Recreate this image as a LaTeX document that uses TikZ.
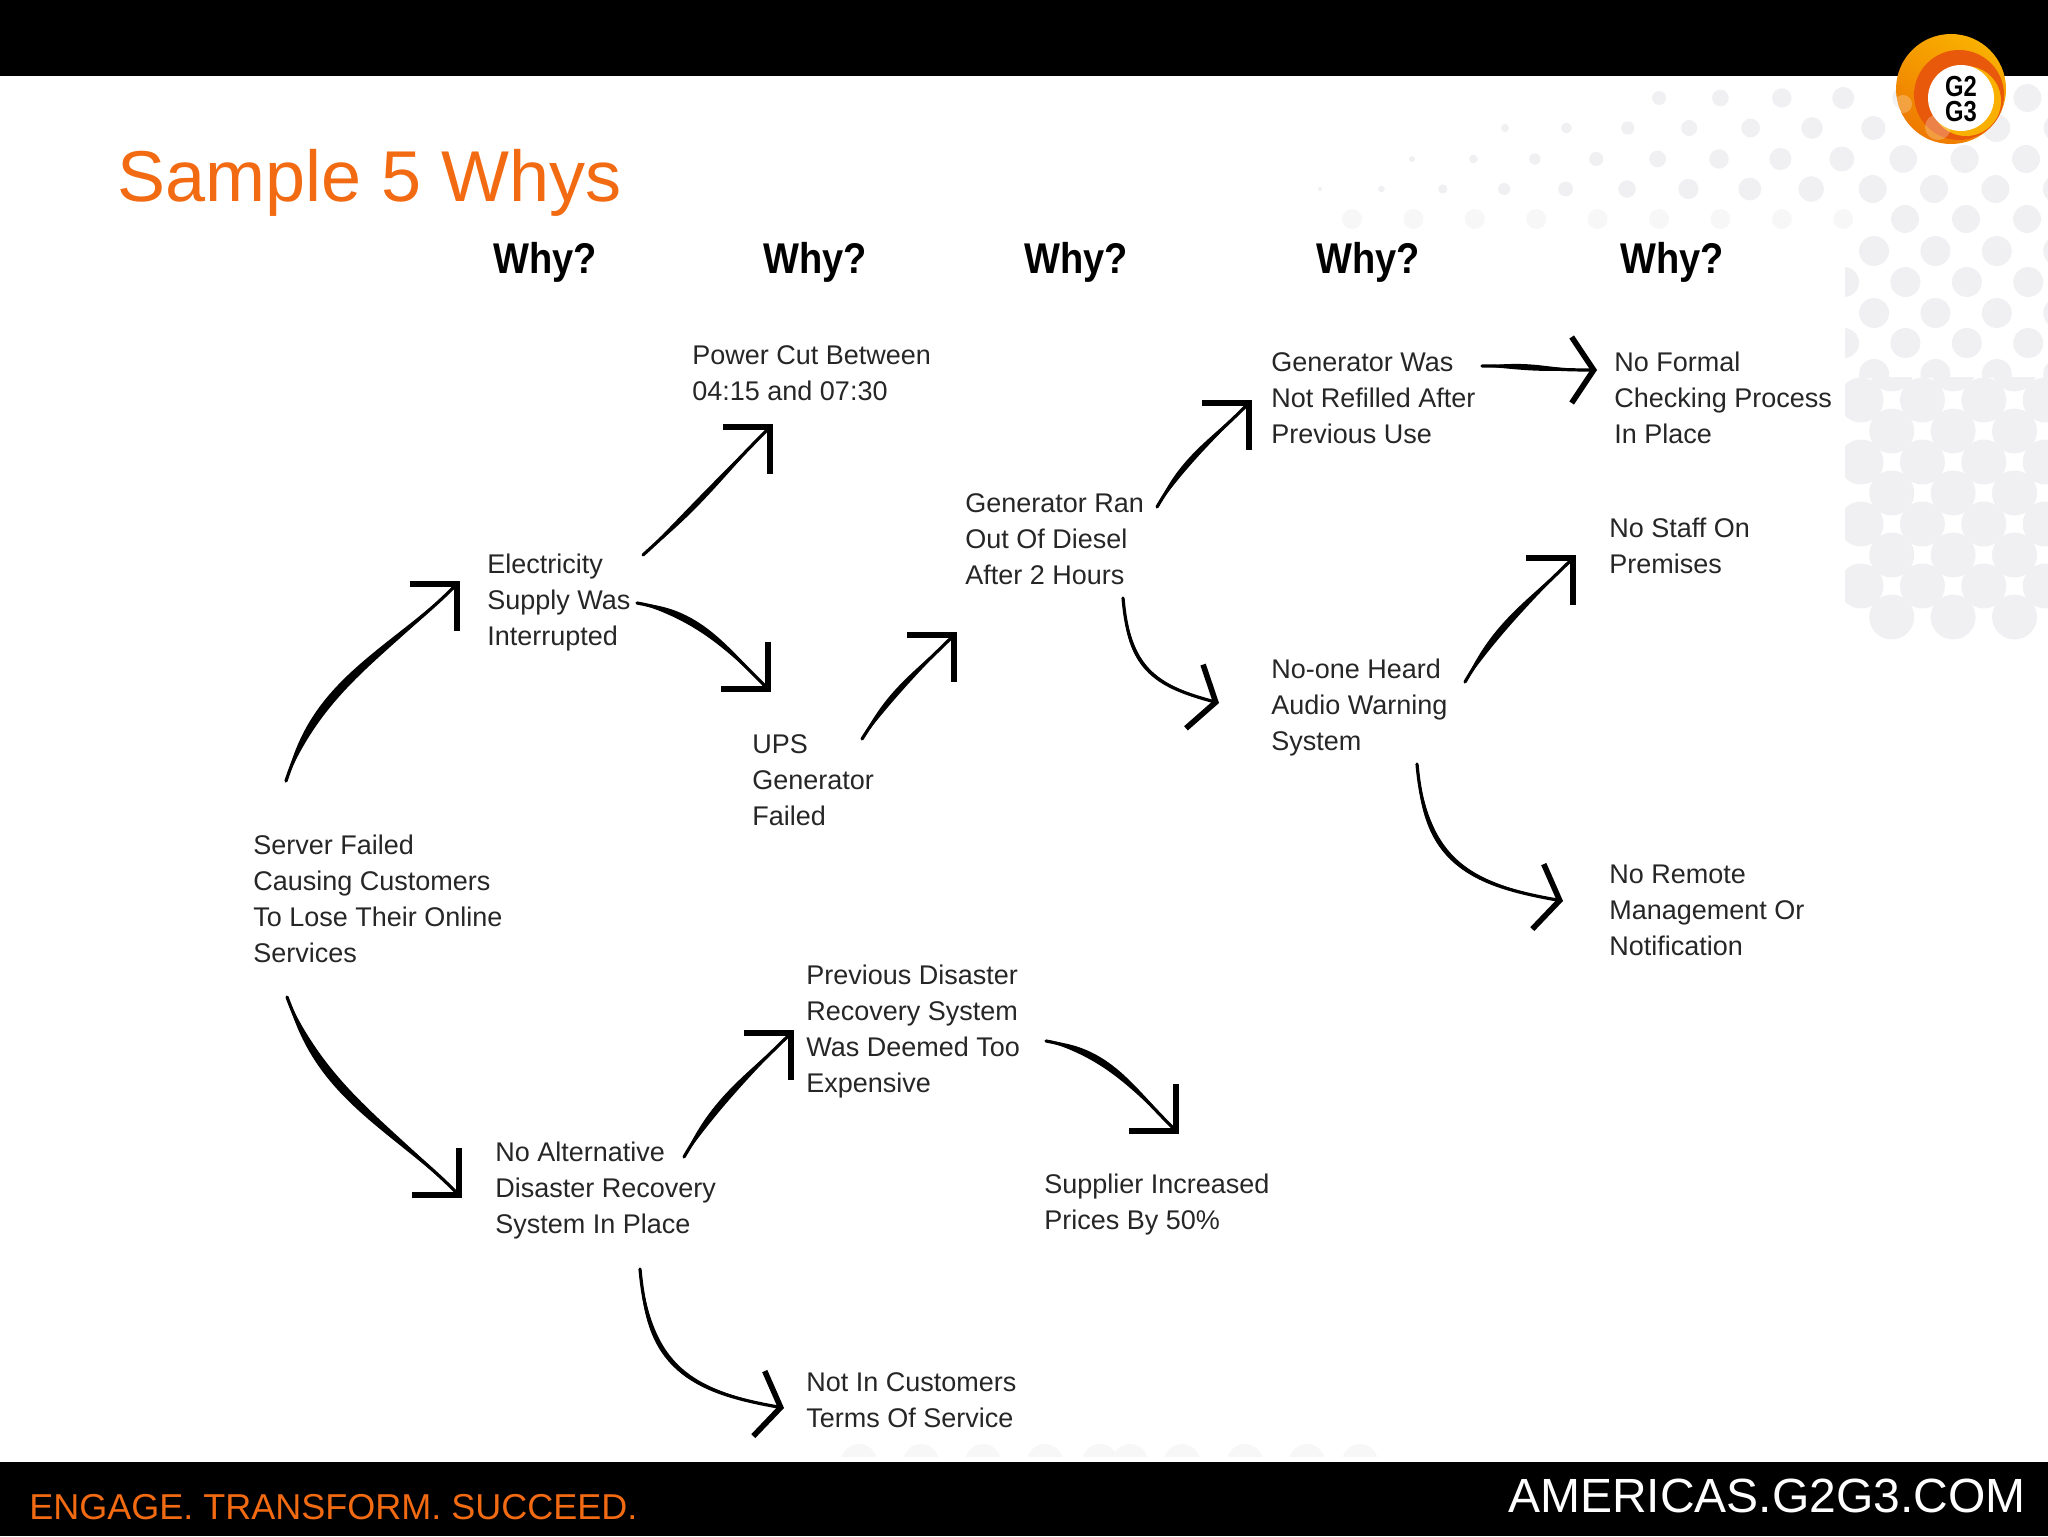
\documentclass[tikz,border=0pt]{standalone}
\usepackage{fontspec}
\setmainfont{Liberation Sans}
\newfontfamily\whyfont{Liberation Sans}[FakeStretch=0.885]
\newfontfamily\logofont{Liberation Sans}[FakeStretch=0.82]
\usetikzlibrary{arrows.meta,calc}
\definecolor{gOrange}{HTML}{F26A12}
\definecolor{gDots}{HTML}{F0F0F2}
\definecolor{gFaint}{HTML}{F7F7F8}
\definecolor{gText}{HTML}{262626}
\definecolor{gAmber}{HTML}{F9B000}
\definecolor{gRing}{HTML}{EE7A00}
\definecolor{gCore}{HTML}{E8590C}
\tikzset{
  whytext/.style={anchor=north west, inner sep=0pt, align=left, text=gText,
    font=\fontsize{13.5}{18}\selectfont},
  whyhead/.style={anchor=center, inner sep=0pt, font=\fontsize{21.5}{24}\whyfont\bfseries},
  corehead/.style={line cap=round, line width=1.6pt},
  cornerflow/.style={corehead, -{Straight Barb[length=16.5pt,width=33pt,line width=3.2pt]}},
  openflow/.style={corehead, looseness=1.25, -{Straight Barb[length=11pt,width=33pt,line width=2.8pt]}},
}
% spread, style, from, out, in, to
\newcommand{\whyflow}[6][6]{%
  \draw[#2] (#3) to[out=#4,in=#5] (#6);
  \pgfmathsetmacro{\outa}{#4+#1}\pgfmathsetmacro{\outb}{#4-#1}
  \pgfmathsetmacro{\ina}{#5-1.5}\pgfmathsetmacro{\inb}{#5+1.5}
  \fill[#2,-] (#3) to[out=\outa,in=\ina] (#6) to[out=\inb,in=\outb] (#3);
}
\begin{document}
\begin{tikzpicture}[x=0.5pt,y=-0.5pt]
  \useasboundingbox (0,0) rectangle (2048,1536);
  % dots behind the slide
  \foreach \ypos/\xfirst/\rfirst in {98/1659/7,128/1505/4,159/1412/3,189/1320/2}{
    \foreach \k in {0,...,12}{
      \pgfmathsetmacro{\xpos}{\xfirst+61.4*\k}
      \pgfmathsetmacro{\rad}{min(\rfirst+(\xpos-\xfirst)*0.022,14)}
      \ifdim \xpos pt<2060pt
        \fill[gDots] (\xpos,\ypos) circle[radius=\rad];
      \fi
    }
  }
  \foreach \k in {0,...,8}
    \fill[gFaint] (1352+61.4*\k,219) circle[radius=10];
  \foreach \xpos in {1905,1966,2027}
    \fill[gDots] (\xpos,219) circle[radius=14];
  \begin{scope}
    \clip (1845,230) rectangle (2048,377);
    \foreach \ypos/\xfirst in {251/1874,282/1844,313/1874,343/1844,374/1874}{
      \foreach \k in {0,...,3}{
        \fill[gDots] (\xfirst+61.4*\k,\ypos) circle[radius=15];
      }
    }
  \end{scope}
  \begin{scope}
    \clip (1845,377) rectangle (2048,648);
    \foreach \m in {0,...,8}{
      \pgfmathsetmacro{\xfirst}{1861+mod(\m+1,2)*30.7}
      \foreach \k in {0,...,3}{
        \fill[gDots] (\xfirst+61.4*\k,369+31*\m) circle[radius=22.5];
      }
    }
  \end{scope}
  \begin{scope}
    \clip (800,1440) rectangle (1400,1456);
    \foreach \xpos in {859,921,983,1045,1100,1130,1182,1245,1307,1360}
      \fill[gFaint] (\xpos,1462) circle[radius=18];
  \end{scope}
  % bands
  \fill[black] (0,0) rectangle (2048,76);
  \fill[black] (0,1462) rectangle (2048,1536);
  % logo
  \shade[left color=gAmber,right color=gRing,shading angle=-30] (1951,89) circle[radius=55];
  \fill[gCore] (1959,95) circle[radius=45];
  \fill[gAmber] (1966,101) circle[radius=35];
  \fill[white] (1961,98) circle[radius=33];
  \fill[white,opacity=.25] (1903,104) circle[radius=9];
  \fill[white,opacity=.25] (1938,127) circle[radius=13];
  \node (logo) [inner sep=0pt, align=center, font=\fontsize{14.5}{12.5}\logofont\bfseries] at (1961,99) {G2\\G3};
  % texts
  \node (title) [anchor=base west, inner sep=0pt, text=gOrange, font=\fontsize{36}{40}\selectfont] at (117,201) {Sample 5 Whys};
  \node (tagline) [anchor=base west, inner sep=0pt, text=gOrange, font=\fontsize{18}{20}\selectfont] at (29,1519) {ENGAGE. TRANSFORM. SUCCEED.};
  \node (site) [anchor=base east, inner sep=0pt, text=white, font=\fontsize{24}{26}\selectfont] at (2026,1512) {AMERICAS.G2G3.COM};
  \foreach \xpos [count=\i] in {545,815,1076,1368,1672}
    \node (why\i) [whyhead] at (\xpos,262) {Why?};
  \node (server) [whytext] at (253,835) {Server Failed\\Causing Customers\\To Lose Their Online\\Services};
  \node (elec) [whytext] at (487,554) {Electricity\\Supply Was\\Interrupted};
  \node (power) [whytext] at (692,345) {Power Cut Between\\04:15 and 07:30};
  \node (ups) [whytext] at (752,734) {UPS\\Generator\\Failed};
  \node (genran) [whytext] at (965,493) {Generator Ran\\Out Of Diesel\\After 2 Hours};
  \node (genwas) [whytext] at (1271,352) {Generator Was\\Not Refilled After\\Previous Use};
  \node (formal) [whytext] at (1614,352) {No Formal\\Checking Process\\In Place};
  \node (staff) [whytext] at (1609,518) {No Staff On\\Premises};
  \node (noone) [whytext] at (1271,659) {No-one Heard\\Audio Warning\\System};
  \node (remote) [whytext] at (1609,865) {No Remote\\Management Or\\Notification};
  \node (noalt) [whytext] at (495,1142) {No Alternative\\Disaster Recovery\\System In Place};
  \node (prev) [whytext] at (806,965) {Previous Disaster\\Recovery System\\Was Deemed Too\\Expensive};
  \node (supplier) [whytext] at (1044,1174) {Supplier Increased\\Prices By 50\%};
  \node (notin) [whytext] at (806,1372) {Not In Customers\\Terms Of Service};
  % arrows
  \whyflow[5]{cornerflow}{$(server.north west)+(33,-54)$}{72}{225}{$(elec.north west)+(-27,27)$}
  \whyflow[4]{cornerflow}{$(elec.north west)+(156,1)$}{42}{225}{$(power.north west)+(81,79)$}
  \whyflow[7]{cornerflow}{$(elec.north west)+(150,49)$}{-10}{135}{$(ups.north west)+(19,-42)$}
  \whyflow{cornerflow}{$(ups.north west)+(110,5)$}{58}{225}{$(genran.north west)+(-8,139)$}
  \whyflow{cornerflow}{$(genran.north west)+(192,14)$}{60}{225}{$(genwas.north west)+(-19,48)$}
  \whyflow[3]{openflow}{$(genran.north west)+(158,105)$}{-85}{165}{$(noone.north west)+(-52,44)$}
  \whyflow{openflow}{$(genwas.north west)+(211,14)$}{0}{180}{$(formal.north west)+(-17,18)$}
  \whyflow{cornerflow}{$(noone.north west)+(194,23)$}{60}{225}{$(staff.north west)+(-33,37)$}
  \whyflow[3]{openflow}{$(noone.north west)+(146,105)$}{-85}{170}{$(remote.north west)+(-46,36)$}
  \whyflow[5]{cornerflow}{$(server.north west)+(34,162)$}{-70}{135}{$(noalt.north west)+(-33,56)$}
  \whyflow{cornerflow}{$(noalt.north west)+(189,15)$}{60}{225}{$(prev.north west)+(-12,65)$}
  \whyflow[7]{cornerflow}{$(prev.north west)+(240,76)$}{-10}{135}{$(supplier.north west)+(135,-40)$}
  \whyflow[3]{openflow}{$(noalt.north west)+(145,127)$}{-85}{170}{$(notin.north west)+(-22,36)$}
\end{tikzpicture}
\end{document}
